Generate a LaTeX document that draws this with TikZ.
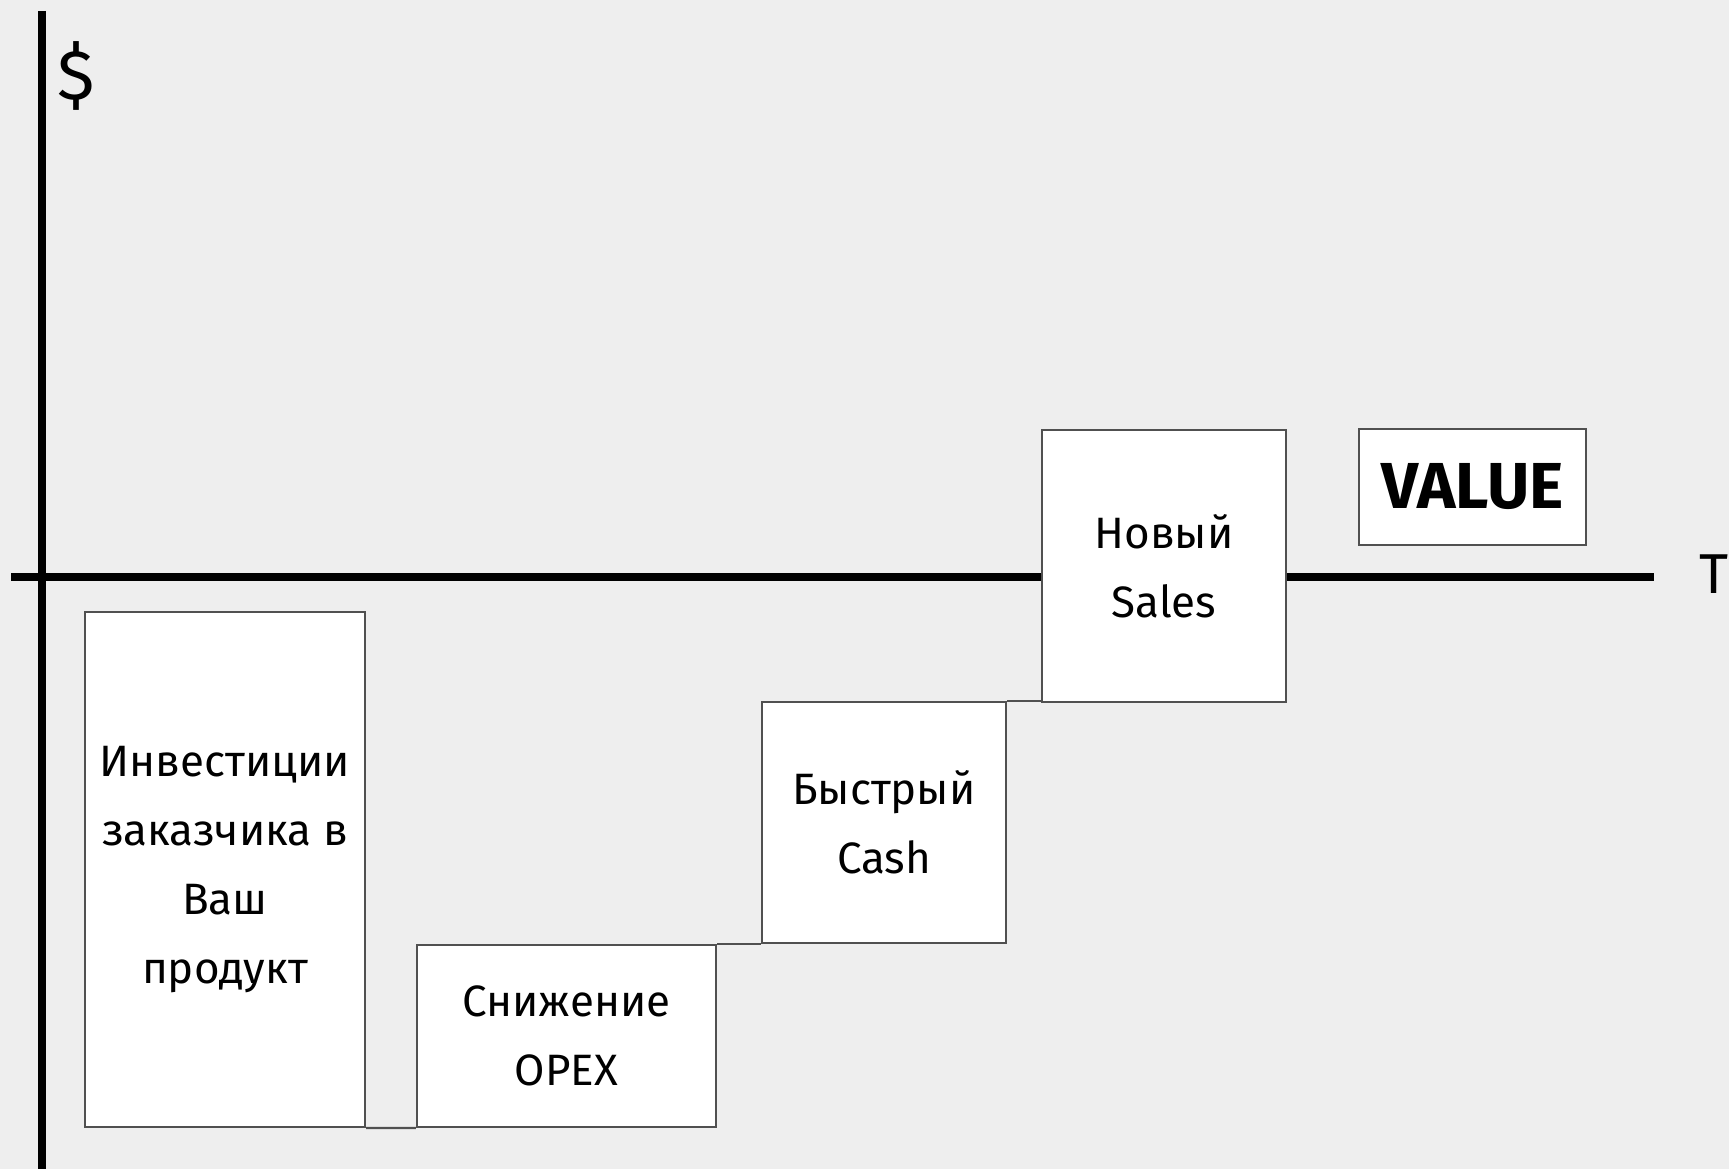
\documentclass[tikz,border=0pt]{standalone}
\usepackage{fontspec}
\setmainfont{Fira Sans}
\definecolor{bgcol}{HTML}{EEEEEE}
\definecolor{boxline}{HTML}{505050}
\tikzset{
  stepbox/.style={draw=boxline, line width=0.6pt, fill=white, align=center,
    inner sep=0pt, font=\fontsize{12.5}{19.6}\selectfont},
  axis/.style={line width=2pt, black},
}
\begin{document}
\begin{tikzpicture}[x=0.1mm, y=-0.1mm]
          % page
          \fill[bgcol] (0,0) rectangle (1729,1169);
          \useasboundingbox (0,0) rectangle (1729,1169);

          % axes
          \coordinate (ytop) at (42,11);
          \coordinate (ybot) at (42,1169);
          \coordinate (xleft) at (11,577);
          \coordinate (xright) at (1654,577);
          \draw[axis] (ytop) -- (ybot);
          \draw[axis] (xleft) -- (xright);
          \node[font=\fontsize{20}{24}\selectfont] (dollar) at (76,76) {\$};
          \node[font=\fontsize{16}{19}\selectfont] (tlabel) at (1714,574) {T};

          % steps
          \node[stepbox, minimum width=28mm, minimum height=51.5mm] (invest) at (225,869.5)
            {Инвестиции\\заказчика в\\Ваш\\продукт};
          \node[stepbox, minimum width=29.9mm, minimum height=18.2mm] (opex) at (566.5,1036)
            {Снижение\\OPEX};
          \node[stepbox, minimum width=24.4mm, minimum height=24.1mm] (cash) at (884,822.5)
            {Быстрый\\Cash};
          \node[stepbox, minimum width=24.4mm, minimum height=27.2mm] (sales) at (1164,566)
            {Новый\\Sales};
          \node[stepbox, minimum width=22.7mm, minimum height=11.6mm,
            font=\fontsize{18.5}{22}\selectfont\bfseries] (value) at (1472.5,487) {VALUE};

          % links between steps
          \draw[boxline, line width=0.6pt] (invest.south east) -- (opex.south west);
          \draw[boxline, line width=0.6pt] (opex.north east) -- (opex.north east -| cash.south west);
          \draw[boxline, line width=0.6pt] (cash.north east) -- (cash.north east -| sales.south west);
\end{tikzpicture}
\end{document}
